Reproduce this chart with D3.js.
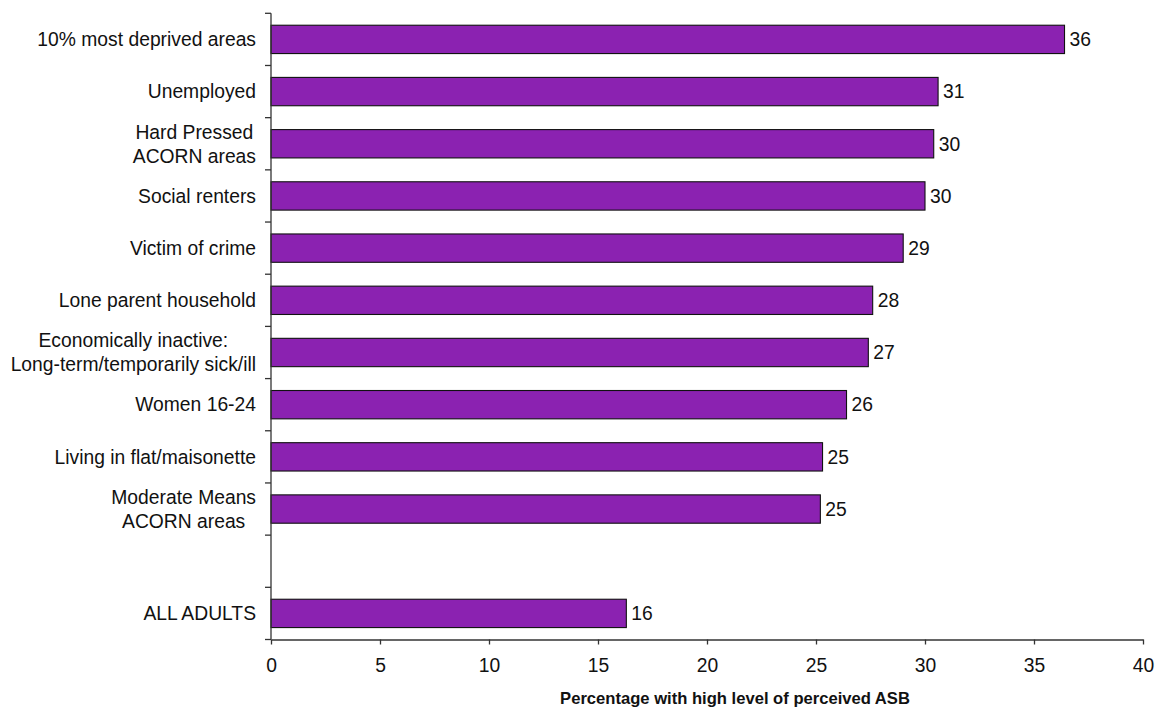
<!DOCTYPE html>
<html>
<head>
<meta charset="utf-8">
<script src="https://cdn.jsdelivr.net/npm/d3@7"></script>
<style>
  html, body { margin: 0; padding: 0; background: #fff; }
  svg { display: block; font-family: "Liberation Sans", Arial, sans-serif; }
</style>
</head>
<body>
<svg id="chart" width="1163" height="711"></svg>
<script>
// Groups (top to bottom); a blank slot separates the overall figure.
const categories = [
  "10% most deprived areas",
  "Unemployed",
  "Hard Pressed\nACORN areas",
  "Social renters",
  "Victim of crime",
  "Lone parent household",
  "Economically inactive:\nLong-term/temporarily sick/ill",
  "Women 16-24",
  "Living in flat/maisonette",
  "Moderate Means\nACORN areas",
  "",
  "ALL ADULTS"
];
// Percentage with high level of perceived ASB (null = no bar)
const values = [36.4, 30.6, 30.4, 30.0, 29.0, 27.6, 27.4, 26.4, 25.3, 25.2, null, 16.3];
const xTicks = [0, 5, 10, 15, 20, 25, 30, 35, 40];
const xTitle = "Percentage with high level of perceived ASB";

const rows = categories.map((c, i) => ({ key: "k" + i, label: c, value: values[i] }));

const svg = d3.select("#chart");
const plot = { left: 271, right: 1143, top: 13.3, bottom: 639.5 };
const fontSize = 19.3;

const x = d3.scaleLinear().domain([0, 40]).range([plot.left, plot.right]);
const y = d3.scaleBand().domain(rows.map(r => r.key)).range([plot.top, plot.bottom]).padding(0);
const barH = y.step() * 0.543;
const fmt = d3.format(".0f");

// Bars
svg.append("g").selectAll("rect")
  .data(rows.filter(r => r.value != null))
  .join("rect")
  .attr("x", x(0))
  .attr("y", d => y(d.key) + (y.step() - barH) / 2)
  .attr("width", d => x(d.value) - x(0))
  .attr("height", barH)
  .attr("fill", "#8B22B1")
  .attr("stroke", "#111")
  .attr("stroke-width", 1.1);

// Value labels
svg.append("g").selectAll("text")
  .data(rows.filter(r => r.value != null))
  .join("text")
  .attr("x", d => x(d.value) + 5)
  .attr("y", d => y(d.key) + y.step() / 2)
  .attr("dy", "0.35em")
  .attr("font-size", fontSize)
  .attr("fill", "#111")
  .text(d => fmt(d.value));

// Y axis: line with ticks on band boundaries
const yAxis = svg.append("g").attr("stroke", "#333").attr("stroke-width", 1.3);
yAxis.append("line")
  .attr("x1", x(0)).attr("x2", x(0))
  .attr("y1", plot.top).attr("y2", plot.bottom);
const bounds = rows.map(r => y(r.key)).concat([y.range()[1]]);
yAxis.selectAll("line.tick")
  .data(bounds)
  .join("line")
  .attr("class", "tick")
  .attr("x1", x(0) - 6).attr("x2", x(0))
  .attr("y1", d => d).attr("y2", d => d);

// Category labels: multi-line labels are centred as a block, block right-aligned
const labelRight = 256;
const lineGap = 24;
const labels = svg.append("g").attr("font-size", fontSize).attr("fill", "#111");
rows.forEach(r => {
  if (!r.label) return;
  const lines = r.label.split("\n");
  const cy = y(r.key) + y.step() / 2;
  const g = labels.append("g");
  const texts = lines.map((ln, i) => g.append("text")
    .attr("y", cy + (i - (lines.length - 1) / 2) * lineGap)
    .attr("dy", "0.35em")
    .text(ln));
  if (lines.length === 1) {
    texts[0].attr("x", labelRight).attr("text-anchor", "end");
  } else {
    const w = d3.max(texts, t => t.node().getComputedTextLength());
    texts.forEach(t => t.attr("x", labelRight - w / 2).attr("text-anchor", "middle"));
  }
});

// X axis
const xAxis = svg.append("g")
  .attr("transform", `translate(0,${plot.bottom})`)
  .call(d3.axisBottom(x).tickValues(xTicks).tickSize(5).tickSizeOuter(0).tickPadding(14));
xAxis.select(".domain").attr("stroke", "#333").attr("stroke-width", 1.3);
xAxis.selectAll(".tick line").attr("stroke", "#333").attr("stroke-width", 1.3);
xAxis.selectAll(".tick text")
  .attr("font-size", fontSize)
  .attr("font-family", "'Liberation Sans', Arial, sans-serif")
  .attr("fill", "#111");

// X axis title
svg.append("text")
  .attr("x", 735)
  .attr("y", 704)
  .attr("text-anchor", "middle")
  .attr("font-size", 16.6)
  .attr("font-weight", "bold")
  .attr("fill", "#111")
  .text(xTitle);
</script>
</body>
</html>
